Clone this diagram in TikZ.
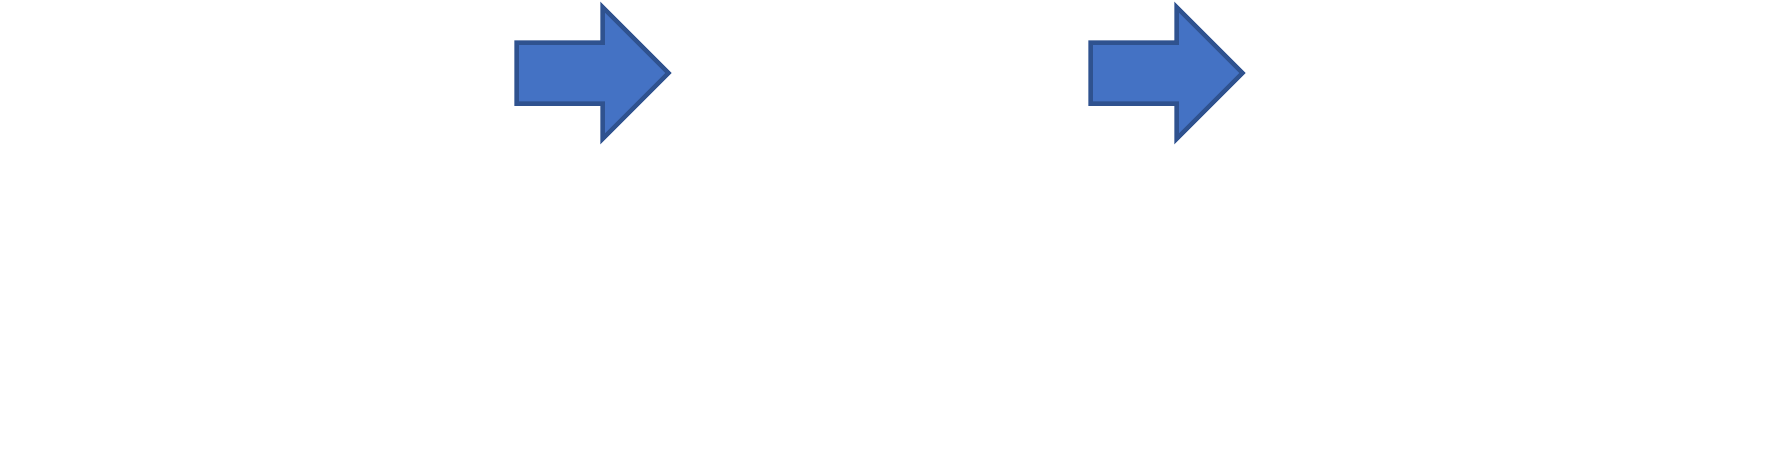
\documentclass[tikz,border=0pt]{standalone}
\definecolor{arrowfill}{HTML}{4472C4}
\definecolor{arrowline}{HTML}{2F528F}
\tikzset{blockarrow/.style={fill=arrowfill,draw=arrowline,line width=4.5pt,line join=miter}}
\begin{document}
\begin{tikzpicture}[x=1pt,y=-1pt]
\useasboundingbox[fill=white] (0,0) rectangle (1777,453);
% first arrow
\draw[blockarrow] (516.5,42.5) -- (602.5,42.5) -- (602.5,7) -- (668.5,73) -- (602.5,139) -- (602.5,103.5) -- (516.5,103.5) -- cycle;
% second arrow
\draw[blockarrow] (1090.5,42.5) -- (1176.5,42.5) -- (1176.5,7) -- (1242.5,73) -- (1176.5,139) -- (1176.5,103.5) -- (1090.5,103.5) -- cycle;
\end{tikzpicture}
\end{document}
